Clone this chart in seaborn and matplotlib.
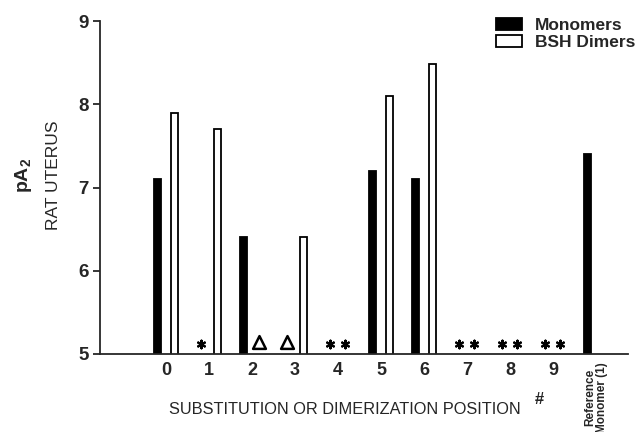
import matplotlib
matplotlib.use("Agg")
import matplotlib.pyplot as plt
import seaborn as sns
import pandas as pd
from matplotlib import font_manager

# ---- data ----
categories = ["0", "1", "2", "3", "4", "5", "6", "7", "8", "9", "Reference\nMonomer (1)"]
mono_cats = ["0", "2", "5", "6", "Reference\nMonomer (1)"]
mono_vals = [7.1, 6.4, 7.2, 7.1, 7.4]
dimer_cats = ["0", "1", "3", "5", "6"]
dimer_vals = [7.9, 7.7, 6.4, 8.1, 8.48]
series = ["Monomers", "BSH Dimers"]
# symbols marking inactive / not-measured compounds at the baseline
mark_cats = ["1", "2", "3", "4", "4", "7", "7", "8", "8", "9", "9"]
mark_series = ["Monomers", "BSH Dimers", "Monomers", "Monomers", "BSH Dimers",
               "Monomers", "BSH Dimers", "Monomers", "BSH Dimers", "Monomers", "BSH Dimers"]
mark_symbol = ["*", "Δ", "Δ", "*", "*", "*", "*", "*", "*", "*", "*"]
yticks = [5, 6, 7, 8, 9]

avail = {f.name for f in font_manager.fontManager.ttflist}
narrow = "Liberation Sans Narrow" if "Liberation Sans Narrow" in avail else "Liberation Sans"

sns.set_style("ticks")
plt.rcParams["font.family"] = ["Liberation Sans", "DejaVu Sans"]

df = pd.DataFrame({
    "pos": mono_cats + dimer_cats,
    "pA2": mono_vals + dimer_vals,
    "series": ["Monomers"] * len(mono_vals) + ["BSH Dimers"] * len(dimer_vals),
})

fig = plt.figure(figsize=(6.35, 4.32), dpi=100)
ax = fig.add_axes([100 / 635, 1 - 354 / 432, (628 - 100) / 635, (354 - 21) / 432])

sns.barplot(data=df, x="pos", y="pA2", hue="series", order=categories, hue_order=series,
            palette={"Monomers": "black", "BSH Dimers": "white"}, edgecolor="black",
            linewidth=1.3, width=0.8, gap=0.62, errorbar=None, ax=ax, legend=True)

# baseline symbols
slot = {"Monomers": -0.19, "BSH Dimers": 0.17}
mdf = pd.DataFrame({"x": [categories.index(c) + slot[s] for c, s in zip(mark_cats, mark_series)],
                    "y": [5.12] * len(mark_cats), "sym": mark_symbol})
stars = mdf[mdf.sym == "*"]
tris = mdf[mdf.sym == "Δ"].assign(y=5.145)
sns.scatterplot(data=stars, x="x", y="y", marker=(6, 2, 0), s=30, color="black",
                linewidth=1.6, edgecolor="black", ax=ax, legend=False, clip_on=False)
sns.scatterplot(data=tris, x="x", y="y", marker="^", s=85, facecolor="white",
                edgecolor="black", linewidth=1.8, ax=ax, legend=False, clip_on=False)

ax.set_ylim(5, 9)
ax.set_xlim(-1.53, 10.74)
ax.set_yticks(yticks)
ax.set_xlabel("")
ax.set_ylabel("")
for s in ["top", "right"]:
    ax.spines[s].set_visible(False)
for s in ["left", "bottom"]:
    ax.spines[s].set_linewidth(1.3)
ax.tick_params(axis="y", length=5, width=1.3, labelsize=13.5, pad=3)
ax.tick_params(axis="x", length=0, labelsize=13, pad=6)
for lab in ax.get_yticklabels():
    lab.set_fontweight("bold")
xl = ax.get_xticklabels()
for lab in xl:
    lab.set_fontweight("bold")
xl[-1].set_rotation(90)
xl[-1].set_fontsize(8.5)
xl[-1].set_va("top")
xl[-1].set_linespacing(1.0)

# legend
handles, labels = ax.get_legend_handles_labels()
leg = ax.legend(handles, labels, loc="upper left", bbox_to_anchor=(496 / 635, 1 - 18 / 432),
                bbox_transform=fig.transFigure, frameon=False, borderpad=0, borderaxespad=0,
                handlelength=1.5, handleheight=0.7, handletextpad=0.75, labelspacing=0.12,
                prop={"size": 12.5, "weight": "bold"})

# axis titles
fig.text(345 / 635, 1 - 410 / 432, "SUBSTITUTION OR DIMERIZATION POSITION",
         ha="center", va="center", fontsize=11.8, family=[narrow, "DejaVu Sans"])
fig.text(539 / 635, 1 - 400 / 432, "#", ha="center", va="center", fontsize=12, fontweight="bold")
fig.text(23 / 635, 1 - 175 / 432, r"pA$\mathregular{_2}$", rotation=90, ha="center", va="center",
         fontsize=14, fontweight="bold")
fig.text(53 / 635, 1 - 175 / 432, "RAT UTERUS", rotation=90, ha="center", va="center",
         fontsize=12.5, family=[narrow, "DejaVu Sans"])

fig.savefig("out.png", dpi=100, facecolor="white")
